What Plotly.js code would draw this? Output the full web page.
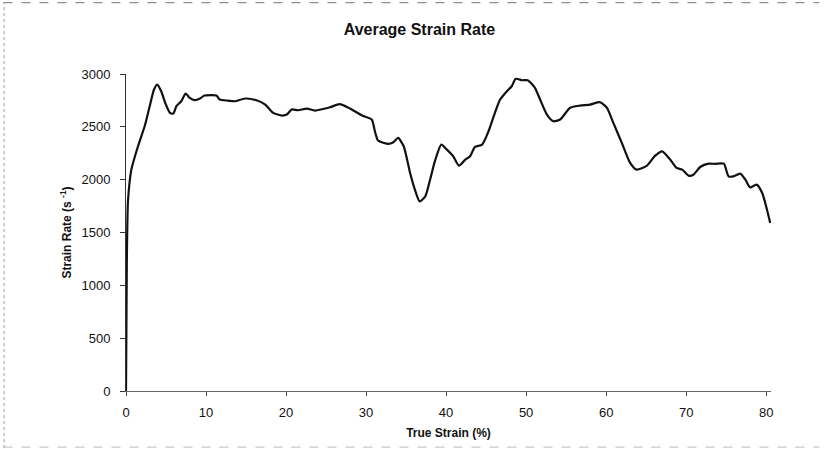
<!DOCTYPE html>
<html>
<head>
<meta charset="utf-8">
<script src="https://cdn.plot.ly/plotly-3.0.1.min.js"></script>
<style>html,body{margin:0;padding:0;background:#fff;}#chart{width:824px;height:449px;}</style>
</head>
<body>
<div id="chart"></div>
<script>
// True strain (%)
var strain = [0, 0.05, 0.1, 0.15, 0.25, 0.67, 1.5, 2.33, 2.96, 3.5, 3.9, 4.4, 4.9, 5.5, 5.9, 6.3, 6.9, 7.46, 7.96, 8.6, 9.2, 9.8, 11.3, 11.7, 12.75, 13.6, 14.9, 16.3, 17.4, 18.4, 19.5, 20.1, 20.7, 21.5, 22.6, 23.6, 24.9, 25.5, 26.7, 28, 29.5, 30.7, 31.1, 31.5, 32.8, 33.4, 34.0, 34.7, 35.5, 36.1, 36.7, 37.4, 38, 38.6, 39.4, 40.1, 40.9, 41.6, 42.4, 43, 43.6, 44.5, 45.3, 46.1, 46.75, 47.6, 48.2, 48.7, 49.5, 50.2, 51.1, 51.75, 52.6, 53.4, 54.25, 55.5, 56.75, 58, 59.25, 60.1, 60.9, 61.96, 63, 63.8, 65.1, 66.1, 67.0, 68, 68.8, 69.5, 70.3, 70.9, 71.75, 72.8, 73.6, 74.7, 75.3, 75.9, 76.75, 77.4, 78, 78.8, 79.5, 80.1, 80.5];
// Strain rate (1/s)
var rate = [0, 600, 1200, 1500, 1800, 2095, 2316, 2505, 2695, 2853, 2900, 2837, 2727, 2632, 2625, 2695, 2742, 2815, 2774, 2752, 2765, 2796, 2796, 2758, 2748, 2742, 2768, 2752, 2711, 2632, 2607, 2616, 2664, 2657, 2673, 2654, 2673, 2685, 2715, 2673, 2607, 2569, 2458, 2370, 2338, 2354, 2395, 2316, 2063, 1905, 1794, 1842, 2000, 2175, 2332, 2284, 2221, 2133, 2190, 2221, 2310, 2332, 2458, 2632, 2758, 2837, 2884, 2954, 2941, 2941, 2869, 2758, 2616, 2553, 2569, 2680, 2701, 2711, 2733, 2680, 2537, 2348, 2158, 2095, 2133, 2225, 2268, 2190, 2111, 2095, 2038, 2047, 2120, 2152, 2149, 2152, 2031, 2031, 2057, 2000, 1927, 1953, 1874, 1716, 1590];
var xTicks = [0, 10, 20, 30, 40, 50, 60, 70, 80];
var yTicks = [0, 500, 1000, 1500, 2000, 2500, 3000];

var trace = {
  x: strain, y: rate, type: 'scatter', mode: 'lines',
  line: {color: '#111', width: 2.2, shape: 'spline', smoothing: 0.6},
  hoverinfo: 'x+y', cliponaxis: false
};

var tickFont = {family: 'Arial, Liberation Sans, sans-serif', size: 13, color: '#111'};
var layout = {
  width: 824, height: 449,
  margin: {l: 126, r: 53, t: 74, b: 58, pad: 0},
  paper_bgcolor: '#fff', plot_bgcolor: '#fff',
  showlegend: false,
  title: {text: '<b>Average Strain Rate</b>', font: {family: 'Arial, Liberation Sans, sans-serif', size: 16, color: '#111'},
          x: 0.509, xref: 'container', xanchor: 'center', y: 0.935, yref: 'container', yanchor: 'middle'},
  xaxis: {
    range: [0, 80.6], tickvals: xTicks, ticktext: xTicks.map(String),
    showgrid: false, zeroline: false, showline: true, linecolor: '#666', linewidth: 1,
    ticks: 'outside', ticklen: 4, tickcolor: '#444', tickwidth: 1, ticklabelstandoff: 5,
    tickfont: tickFont,
    title: {text: '<b>True Strain (%)</b>', font: {family: 'Arial, Liberation Sans, sans-serif', size: 12, color: '#111'}, standoff: 10}
  },
  yaxis: {
    range: [0, 3000], tickvals: yTicks, ticktext: yTicks.map(String),
    showgrid: false, zeroline: false, showline: true, linecolor: '#333', linewidth: 1,
    ticks: 'outside', ticklen: 5, tickcolor: '#333', tickwidth: 1, ticklabelstandoff: 7,
    tickfont: tickFont,
    title: {text: '<b>Strain Rate (s <sup>-1</sup>)</b>', font: {family: 'Arial, Liberation Sans, sans-serif', size: 12, color: '#111'}, standoff: 7}
  },
  shapes: [
    {type: 'line', xref: 'paper', yref: 'paper', x0: -0.19, x1: 1.075, y0: 1.225, y1: 1.225, line: {color: '#777', width: 1, dash: 'dash'}},
    {type: 'line', xref: 'paper', yref: 'paper', x0: -0.189, x1: -0.189, y0: -0.18, y1: 1.225, line: {color: '#999', width: 1, dash: 'dot'}},
    {type: 'line', xref: 'paper', yref: 'paper', x0: -0.19, x1: 1.075, y0: -0.177, y1: -0.177, line: {color: '#bbb', width: 1, dash: 'dash'}}
  ]
};

Plotly.newPlot('chart', [trace], layout, {displayModeBar: false, staticPlot: true});
</script>
</body>
</html>
